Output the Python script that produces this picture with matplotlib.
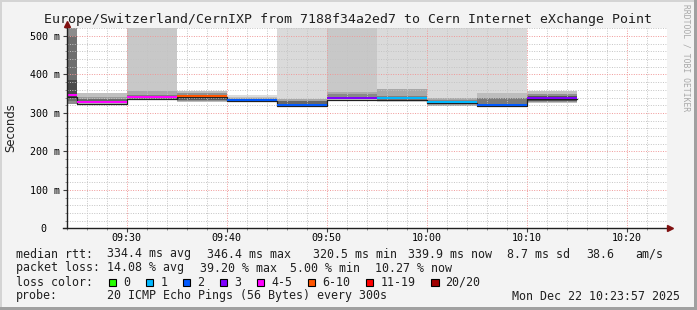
import numpy as np
import matplotlib.pyplot as plt
from matplotlib.patches import Rectangle
from matplotlib.transforms import ScaledTranslation

# 5 minute bins (start time), median rtt in ms, loss class index
bin_start = ['09:20', '09:25', '09:30', '09:35', '09:40', '09:45', '09:50', '09:55', '10:00', '10:05', '10:10']
median = [346.4, 327.5, 340.5, 344.0, 334.5, 321.5, 338.4, 338.0, 329.4, 320.5, 339.9]
loss = [4, 4, 4, 5, 2, 2, 3, 1, 1, 2, 3]

# smoke bands (ms): outer / mid / core
outer_hi = [600, 352, 600, 356, 346, 600, 600, 600, 600, 600, 357]
outer_lo = [323, 322, 333, 329, 333, 318, 334, 329, 318, 318, 325]
outer_gray = ['#8c8c8c', '#c0c0c0', '#c8c8c8', '#bcbcbc', '#dcdcdc', '#dadada',
              '#c8c8c8', '#dadada', '#dadada', '#dadada', '#c0c0c0']
mid_hi = [500, 342, 356, 353, 341, 337, 355, 362, 340, 352, 348]
mid_lo = [331, 327, 334, 331, 333, 320, 335, 331, 319, 320, 328]
mid_gray = ['#6e6e6e', '#9a9a9a', '#a8a8a8', '#909090', '#c0c0c0', '#a8a8a8',
            '#aaaaaa', '#a8a8a8', '#a8a8a8', '#bdbdbd', '#909090']
core_hi = [385, 335, 347, 345, 338, 331, 349, 345, 334, 340, 343]
core_lo = [338, 327, 334, 333, 333, 320, 335, 332, 325, 320, 331]
core_gray = ['#4a4a4a', '#6a6a6a', '#808080', '#5a5a5a', '#a0a0a0', '#666666',
             '#888888', '#808080', '#8a8a8a', '#7a7a7a', '#555555']

loss_colors = ['#26ff00', '#00b8ff', '#0059ff', '#7e00ff', '#ff00ff', '#ff5500', '#ff0000', '#a00000']
loss_labels = ['0', '1', '2', '3', '4-5', '6-10', '11-19', '20/20']

xtick_labels = ['09:30', '09:40', '09:50', '10:00', '10:10', '10:20']
ytick_values = [0, 100, 200, 300, 400, 500]
ytick_labels = ['0', '100 m', '200 m', '300 m', '400 m', '500 m']


def minutes(s):
    h, m = s.split(':')
    return int(h) * 60 + int(m)


mono = 'DejaVu Sans Mono'
W, H = 697, 310
fig = plt.figure(figsize=(W / 100, H / 100), dpi=100, facecolor='#f3f3f3')
ax = fig.add_axes([66.7 / W, (H - 228.3) / H, 600 / W, 200 / H])
ax.set_facecolor('white')

xs = np.array([minutes(s) for s in bin_start])
step = 5
ax.bar(xs, np.array(outer_hi) - np.array(outer_lo), bottom=outer_lo, width=step,
       align='edge', color=outer_gray, linewidth=0, zorder=1)
ax.bar(xs, np.array(mid_hi) - np.array(mid_lo), bottom=mid_lo, width=step,
       align='edge', color=mid_gray, linewidth=0, zorder=1.1)
ax.bar(xs, np.array(core_hi) - np.array(core_lo), bottom=core_lo, width=step,
       align='edge', color=core_gray, linewidth=0, zorder=1.2)

# median line with loss colour
sw = 520 / 200
med = np.array(median)
ax.step(np.append(xs, xs[-1] + step), np.append(med, med[-1]) - sw - 1.2,
        where='post', color='#202020', lw=0.9, zorder=2.8)
ax.bar(xs, 2 * sw, bottom=med - sw, width=step, align='edge',
       color=[loss_colors[i] for i in loss], linewidth=0, zorder=3)

ax.set_xlim(minutes('09:24'), minutes('10:24'))
ax.set_ylim(0, 520)

ax.set_xticks([minutes(s) for s in xtick_labels])
ax.set_xticklabels(xtick_labels)
ax.set_xticks(np.arange(minutes('09:24'), minutes('10:24') + 1, 2), minor=True)
ax.set_yticks(ytick_values)
ax.set_yticklabels(ytick_labels)
ax.set_yticks(np.arange(0, 521, 20), minor=True)

ax.set_axisbelow(False)
ax.grid(which='minor', color='#c4c4c4', linestyle=(0, (1, 1.5)), lw=0.7)
ax.grid(which='major', color='#f09898', linestyle=(0, (1, 1.5)), lw=0.7)

for lab in ax.get_xticklabels() + ax.get_yticklabels():
    lab.set_family(mono)
    lab.set_fontsize(7.2)
ax.tick_params(which='major', length=3, width=0.8, pad=2, color='#404040')
ax.tick_params(axis='x', which='major', pad=0.6)
ax.tick_params(which='minor', length=1.6, width=0.6, color='#808080')
zero = ax.get_yticklabels()[0]
zero.set_transform(zero.get_transform() + ScaledTranslation(-13.3 / 100, 0, fig.dpi_scale_trans))

for s in ax.spines.values():
    s.set_visible(False)
ax.plot([0, 0], [0, 1.02], transform=ax.transAxes, color='#202020', lw=1, clip_on=False, zorder=4)
ax.plot([-0.007, 1.004], [0, 0], transform=ax.transAxes, color='#202020', lw=1, clip_on=False, zorder=4)
ax.plot([0], [1.024], marker='^', ms=4.5, color='#801010', transform=ax.transAxes, clip_on=False, zorder=5)
ax.plot([1.006], [0], marker='>', ms=4.5, color='#801010', transform=ax.transAxes, clip_on=False, zorder=5)

# title and labels
fig.text(347.7 / W, 1 - 20 / H,
         'Europe/Switzerland/CernIXP from 7188f34a2ed7 to Cern Internet eXchange Point',
         ha='center', va='center', family=mono, fontsize=9.55, color='#202020')
fig.text(10.8 / W, 1 - 127.5 / H, 'Seconds', rotation=90, ha='center', va='center',
         fontsize=8.4, color='#202020')
fig.text(686 / W, 1 - 58 / H, 'RRDTOOL / TOBI OETIKER', rotation=270, ha='center',
         va='center', family=mono, fontsize=5.8, color='#a8a8a8')


def ltext(x, y, s, **kw):
    fig.text(x / W, 1 - y / H, s, family=mono, fontsize=8.4, va='center', color='#202020', **kw)


ltext(16, 254, 'median rtt:')
ltext(107.3, 254, '334.4 ms avg')
ltext(207.3, 254, '346.4 ms max')
ltext(312.7, 254, '320.5 ms min')
ltext(407.7, 254, '339.9 ms now')
ltext(506.7, 254, '8.7 ms sd')
ltext(586, 254, '38.6')
ltext(635, 254, 'am/s')
ltext(16, 268, 'packet loss:')
ltext(107.3, 268, '14.08 % avg')
ltext(199.5, 268, '39.20 % max')
ltext(290.5, 268, '5.00 % min')
ltext(375, 268, '10.27 % now')
ltext(16, 282, 'loss color:')
box_x = [108.7, 145.7, 182.7, 219.7, 256.7, 307.7, 365.7, 431]
for bx, c, lab in zip(box_x, loss_colors, loss_labels):
    fig.patches.append(Rectangle((bx / W, 1 - 286 / H), 7.5 / W, 7.5 / H, transform=fig.transFigure,
                                 facecolor=c, edgecolor='black', lw=0.8))
    ltext(bx + 14.5, 282, lab)
ltext(16, 296, 'probe:')
ltext(107.3, 296, '20 ICMP Echo Pings (56 Bytes) every 300s')
ltext(680, 296, 'Mon Dec 22 10:23:57 2025', ha='right')

# 3d frame
fig.patches.append(Rectangle((0, 1 - 2 / H), 1, 2 / H, transform=fig.transFigure, color='#d4d4d4', lw=0))
fig.patches.append(Rectangle((0, 0), 2 / W, 1, transform=fig.transFigure, color='#d4d4d4', lw=0))
fig.patches.append(Rectangle((0, 0), 1, 3 / H, transform=fig.transFigure, color='#a0a0a0', lw=0))
fig.patches.append(Rectangle((1 - 3 / W, 0), 3 / W, 1, transform=fig.transFigure, color='#a0a0a0', lw=0))

fig.savefig('out.png', dpi=100, facecolor=fig.get_facecolor())
